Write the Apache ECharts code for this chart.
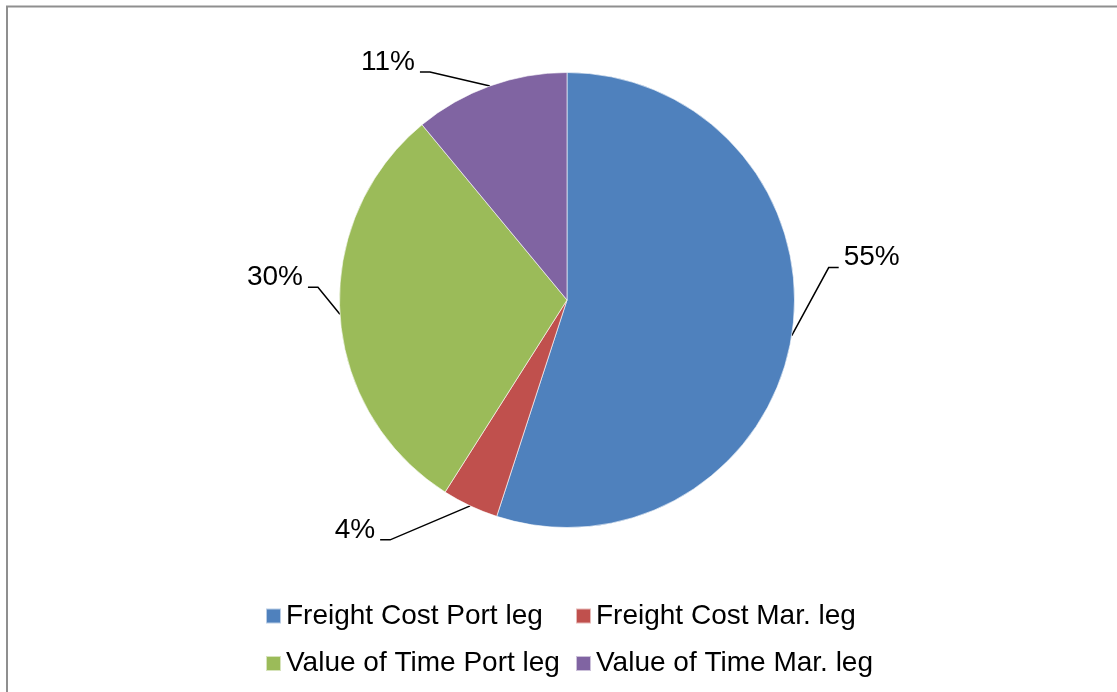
<!DOCTYPE html>
<html>
<head>
<meta charset="utf-8">
<script src="https://cdn.jsdelivr.net/npm/echarts@6/dist/echarts.min.js"></script>
<style>
  html, body { margin: 0; padding: 0; background: #fff; }
  #chart { width: 1117px; height: 692px; }
</style>
</head>
<body>
<div id="chart"></div>
<script>
// Cost components (percent of total)
const categories = [
  'Freight Cost Port leg',
  'Freight Cost Mar. leg',
  'Value of Time Port leg',
  'Value of Time Mar. leg'
];
const shares = [55, 4, 30, 11];
const sliceColors = ['#4F81BD', '#C0504D', '#9BBB59', '#8064A2'];

// Leader-line elbow offsets from the arc point, one per slice
const elbowOffsets = [[37, -68], [-80, 34], [-22, -27], [-60, -14]];

const FONT = "'Liberation Sans', Arial, sans-serif";

const chart = echarts.init(document.getElementById('chart'), null, { renderer: 'canvas' });

const legendText = { color: '#000', fontSize: 28, fontFamily: FONT, lineHeight: 30 };

// Two legend columns so the second column lines up across both rows
function legendColumn(names, left) {
  return {
    data: names,
    orient: 'vertical',
    left: left, top: 601,
    height: 91,
    padding: 0,
    icon: 'rect', itemWidth: 15, itemHeight: 15, itemGap: 17.5,
    selectedMode: false,
    textStyle: legendText
  };
}

chart.setOption({
  animation: false,
  backgroundColor: '#fff',
  color: sliceColors,
  graphic: [{
    type: 'rect',
    silent: true,
    shape: { x: 7, y: 6.5, width: 1300, height: 900 },
    style: { fill: 'none', stroke: '#8f8f8f', lineWidth: 2 }
  }],
  legend: [
    legendColumn([categories[0], categories[2]], 265),
    legendColumn([categories[1], categories[3]], 575)
  ],
  series: [{
    type: 'pie',
    center: [567, 300],
    radius: 227.5,
    startAngle: 90,
    clockwise: true,
    avoidLabelOverlap: false,
    emphasis: { disabled: true },
    itemStyle: { borderColor: 'rgba(255,255,255,0.6)', borderWidth: 1 },
    data: categories.map((name, i) => ({ name, value: shares[i] })),
    label: {
      show: true,
      position: 'outside',
      formatter: p => p.value + '%',
      color: '#000',
      fontSize: 28,
      fontFamily: FONT
    },
    labelLine: {
      show: true,
      length: 20,
      length2: 10,
      lineStyle: { color: '#000', width: 1.5 }
    },
    labelLayout: function (p) {
      const pts = p.labelLinePoints;
      if (!pts) return {};
      const a = pts[0];
      const o = elbowOffsets[p.dataIndex];
      const dir = o[0] >= 0 ? 1 : -1;
      const b = [a[0] + o[0], a[1] + o[1]];
      const c = [b[0] + dir * 10, b[1]];
      return {
        x: c[0] + dir * 5,
        y: c[1] - 10,
        align: dir > 0 ? 'left' : 'right',
        verticalAlign: 'middle',
        labelLinePoints: [a, b, c]
      };
    }
  }]
});
</script>
</body>
</html>
